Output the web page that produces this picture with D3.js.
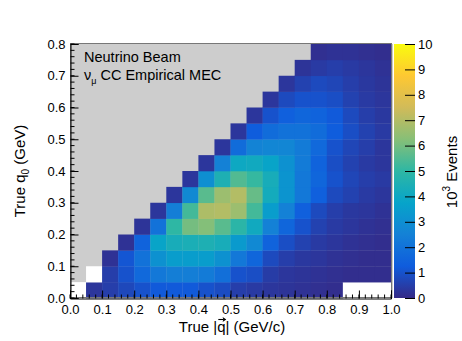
<!DOCTYPE html>
<html>
<head>
<meta charset="utf-8">
<script src="https://cdn.jsdelivr.net/npm/d3@7"></script>
<style>
  body { margin: 0; background: #fff; }
  svg { display: block; }
  text { font-family: "Liberation Sans", Arial, Helvetica, sans-serif; fill: #000; }
</style>
</head>
<body>
<script>
// 2D histogram: true |q| (columns, 0.05 GeV/c bins) vs true q0 (0.05 GeV bins).
// Each column lists event counts (10^3) from q0 = 0 upward; bins above the
// kinematic limit are absent, zero-count bins are 0.
const qBinWidth = 0.05;
const q0BinWidth = 0.05;
const events = [
  [0],
  [0.3, 0],
  [0.5, 0.5, 0.2],
  [0.75, 1.0, 1.1, 0.2],
  [1.0, 1.7, 2.0, 1.5, 0.25],
  [1.2, 2.2, 3.1, 3.8, 2.0, 0.3],
  [1.2, 2.4, 3.5, 4.3, 5.0, 2.4, 0.3],
  [1.2, 2.4, 3.5, 4.4, 6.0, 5.3, 2.8, 0.3],
  [1.0, 2.3, 3.5, 4.5, 6.2, 6.9, 5.6, 3.0, 0.3],
  [0.85, 1.9, 3.1, 4.3, 5.6, 7.0, 6.6, 4.5, 2.5, 0.3],
  [0.5, 1.0, 2.2, 3.4, 4.9, 6.6, 7.0, 5.5, 4.0, 1.8, 0.3],
  [0.4, 0.9, 1.6, 2.8, 4.1, 5.3, 5.8, 5.1, 4.1, 2.6, 1.3, 0.3],
  [0.3, 0.45, 0.8, 1.5, 2.5, 3.5, 4.2, 4.3, 3.8, 2.7, 1.8, 1.0, 0.3],
  [0.25, 0.3, 0.5, 0.9, 1.6, 2.5, 3.2, 3.2, 3.1, 2.7, 2.0, 1.4, 0.8, 0.3],
  [0.2, 0.25, 0.35, 0.6, 1.0, 1.4, 2.2, 2.2, 2.3, 2.3, 2.0, 1.6, 1.0, 0.6, 0.25],
  [0.15, 0.2, 0.3, 0.4, 0.6, 0.8, 1.4, 1.6, 1.5, 1.7, 1.8, 1.5, 1.0, 0.8, 0.4, 0.15],
  [0.1, 0.15, 0.2, 0.3, 0.4, 0.5, 0.8, 1.0, 0.9, 1.0, 1.3, 1.2, 0.9, 0.7, 0.5, 0.2],
  [0, 0.1, 0.15, 0.2, 0.3, 0.35, 0.6, 0.7, 0.6, 0.7, 0.9, 0.8, 0.6, 0.5, 0.4, 0.2],
  [0, 0.1, 0.1, 0.15, 0.2, 0.3, 0.4, 0.5, 0.4, 0.5, 0.6, 0.5, 0.4, 0.35, 0.3, 0.15],
  [0, 0.1, 0.1, 0.1, 0.15, 0.2, 0.3, 0.4, 0.3, 0.3, 0.4, 0.35, 0.3, 0.25, 0.2, 0.1]
];

const xTicks = [0.0, 0.1, 0.2, 0.3, 0.4, 0.5, 0.6, 0.7, 0.8, 0.9, 1.0];
const yTicks = [0.0, 0.1, 0.2, 0.3, 0.4, 0.5, 0.6, 0.7, 0.8];
const zTicks = [0, 1, 2, 3, 4, 5, 6, 7, 8, 9, 10];
const xDomain = [0, 1.0];
const yDomain = [0, 0.8];
const zDomain = [0, 10];

// Bird palette stops
const paletteStops = [0.0, 0.125, 0.25, 0.375, 0.5, 0.625, 0.75, 0.875, 1.0];
const paletteR = [0.2082, 0.0592, 0.0780, 0.0232, 0.1802, 0.5301, 0.8186, 0.9956, 0.9764];
const paletteG = [0.1664, 0.3599, 0.5041, 0.6419, 0.7178, 0.7492, 0.7328, 0.7862, 0.9832];
const paletteB = [0.5293, 0.8684, 0.8385, 0.7914, 0.6425, 0.4662, 0.3499, 0.1968, 0.0539];

const W = 462, H = 341;
const frame = { left: 70, right: 391, top: 44, bottom: 298 };
const bar = { left: 394, right: 415 };

const svg = d3.select("body").append("svg").attr("width", W).attr("height", H);

const x = d3.scaleLinear().domain(xDomain).range([frame.left, frame.right]);
const y = d3.scaleLinear().domain(yDomain).range([frame.bottom, frame.top]);
const color = d3.scaleLinear()
  .domain(paletteStops.map(s => zDomain[0] + s * (zDomain[1] - zDomain[0])))
  .range(paletteStops.map((_, i) => d3.rgb(paletteR[i] * 255, paletteG[i] * 255, paletteB[i] * 255)))
  .interpolate(d3.interpolateRgb)
  .clamp(true);

// frame background (region with no entries)
svg.append("rect")
  .attr("x", frame.left).attr("y", frame.top)
  .attr("width", frame.right - frame.left).attr("height", frame.bottom - frame.top)
  .attr("fill", "#cdcdcd");

// histogram cells
const cells = [];
events.forEach((col, i) => col.forEach((v, j) => cells.push({ i, j, v })));
svg.append("g").selectAll("rect").data(cells).join("rect")
  .attr("x", d => x(d.i * qBinWidth))
  .attr("y", d => y((d.j + 1) * q0BinWidth))
  .attr("width", d => x((d.i + 1) * qBinWidth) - x(d.i * qBinWidth) + 0.3)
  .attr("height", d => y(d.j * q0BinWidth) - y((d.j + 1) * q0BinWidth) + 0.3)
  .attr("fill", d => d.v > 0 ? color(d.v) : "#ffffff");

// frame outline
svg.append("rect")
  .attr("x", frame.left + 0.5).attr("y", frame.top - 0.5)
  .attr("width", frame.right - frame.left).attr("height", frame.bottom - frame.top)
  .attr("fill", "none").attr("stroke", "#777").attr("stroke-width", 1);

// axes with inward ticks
const minorX = d3.range(0, 50 + 1).map(k => k * 0.02);
const minorY = d3.range(0, 40 + 1).map(k => k * 0.02);
const gx = svg.append("g").attr("transform", `translate(0,${frame.bottom + 0.5})`);
gx.selectAll("line.minor").data(minorX).join("line")
  .attr("x1", d => x(d)).attr("x2", d => x(d)).attr("y1", 0).attr("y2", -4)
  .attr("stroke", "#000");
gx.call(d3.axisBottom(x).tickValues(xTicks).tickSize(-8).tickPadding(0).tickFormat(d3.format(".1f")))
  .call(g => g.select(".domain").attr("stroke", "#000"))
  .call(g => g.selectAll(".tick line").attr("stroke", "#000"))
  .call(g => g.selectAll(".tick text").attr("y", 6).attr("font-size", 13).attr("font-family", null));

const gy = svg.append("g").attr("transform", `translate(${frame.left + 0.5},0)`);
gy.selectAll("line.minor").data(minorY).join("line")
  .attr("y1", d => y(d)).attr("y2", d => y(d)).attr("x1", 0).attr("x2", 4)
  .attr("stroke", "#000");
gy.call(d3.axisLeft(y).tickValues(yTicks).tickSize(-8).tickPadding(0).tickFormat(d3.format(".1f")))
  .call(g => g.select(".domain").attr("stroke", "#000"))
  .call(g => g.selectAll(".tick line").attr("stroke", "#000"))
  .call(g => g.selectAll(".tick text").attr("x", -5).attr("font-size", 13).attr("font-family", null));

// colour bar
const z = d3.scaleLinear().domain(zDomain).range([frame.bottom, frame.top]);
const grad = svg.append("defs").append("linearGradient")
  .attr("id", "zgrad").attr("x1", 0).attr("y1", 1).attr("x2", 0).attr("y2", 0);
grad.selectAll("stop").data(paletteStops).join("stop")
  .attr("offset", d => d)
  .attr("stop-color", d => color(zDomain[0] + d * (zDomain[1] - zDomain[0])));
svg.append("rect")
  .attr("x", bar.left).attr("y", frame.top)
  .attr("width", bar.right - bar.left).attr("height", frame.bottom - frame.top)
  .attr("fill", "url(#zgrad)");
svg.append("line")
  .attr("x1", bar.left - 1.5).attr("x2", bar.left - 1.5)
  .attr("y1", frame.top).attr("y2", frame.bottom)
  .attr("stroke", "#c8c8c8");
const gz = svg.append("g").attr("transform", `translate(${bar.right},0)`);
gz.call(d3.axisRight(z).tickValues(zTicks).tickSize(-10).tickPadding(0).tickFormat(d3.format("d")))
  .call(g => g.select(".domain").remove())
  .call(g => g.selectAll(".tick line").attr("stroke", "#000"))
  .call(g => g.selectAll(".tick text").attr("x", 3).attr("font-size", 13).attr("font-family", null));

// x-axis title, with a small vector arrow drawn over the q
const titleY = 332;
const xt = svg.append("text").attr("x", 232).attr("y", titleY)
  .attr("text-anchor", "middle").attr("font-size", 15)
  .text("True |q| (GeV/c)");
const qIndex = 6;
const qs = xt.node().getStartPositionOfChar(qIndex);
const qe = xt.node().getEndPositionOfChar(qIndex);
const qc = (qs.x + qe.x) / 2 + 0.5;
const ay = titleY - 12.5;
svg.append("path")
  .attr("d", `M${qc - 3.5},${ay}H${qc + 2}`)
  .attr("stroke", "#000").attr("stroke-width", 1.1).attr("fill", "none");
svg.append("path")
  .attr("d", `M${qc + 4.5},${ay}L${qc + 0.8},${ay - 2.6}L${qc + 1.6},${ay}L${qc + 0.8},${ay + 2.6}Z`)
  .attr("fill", "#000");

const yt = svg.append("text").attr("transform", "translate(25,171) rotate(-90)")
  .attr("text-anchor", "middle").attr("font-size", 15);
yt.append("tspan").text("True q");
yt.append("tspan").attr("font-size", 10).attr("dy", 4).text("0");
yt.append("tspan").attr("dy", -4).text(" (GeV)");

const zt = svg.append("text").attr("transform", "translate(457,172) rotate(-90)")
  .attr("text-anchor", "middle").attr("font-size", 15);
zt.append("tspan").text("10");
zt.append("tspan").attr("font-size", 10).attr("dy", -7).text("3");
zt.append("tspan").attr("dy", 7).text(" Events");

// labels inside the frame
svg.append("text").attr("x", 84).attr("y", 62).attr("font-size", 14.5).text("Neutrino Beam");
const l2 = svg.append("text").attr("x", 84).attr("y", 80).attr("font-size", 14.5);
l2.append("tspan").text("\u03BD");
l2.append("tspan").attr("font-size", 9).attr("dy", 4).text("\u03BC");
l2.append("tspan").attr("dy", -4).text(" CC Empirical MEC");
</script>
</body>
</html>
